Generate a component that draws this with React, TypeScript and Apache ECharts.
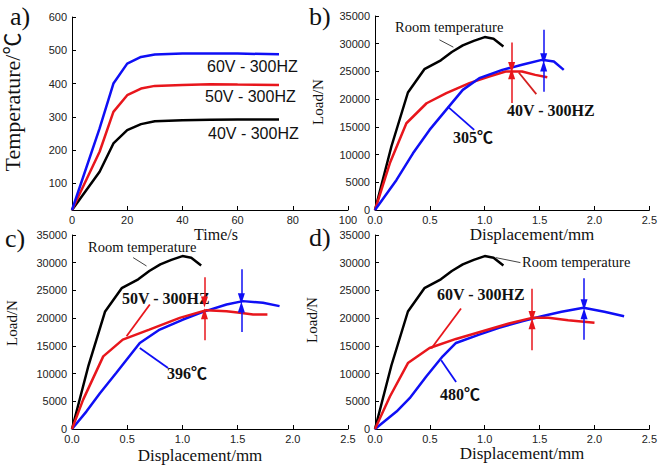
import React, { useEffect, useRef } from "react";
import * as echarts from "echarts";

// ---- Panel a: temperature vs time ----
const timeS = [0, 10, 15, 20, 25, 30, 40, 50, 60, 75];
const temp60V = [20, 265, 400, 460, 480, 487, 490, 490, 490, 488];
const temp50V = [20, 195, 315, 365, 385, 393, 396, 398, 397, 396];
const temp40V = [20, 135, 220, 260, 278, 287, 290, 291, 292, 292];
const timeTicks = [0, 20, 40, 60, 80, 100];
const tempTicks = [100, 200, 300, 400, 500, 600];

// ---- Room temperature curve (same in b, c, d) ----
const roomX = [0, 0.15, 0.3, 0.45, 0.6, 0.7, 0.8, 0.9, 1.0, 1.08, 1.17];
const roomY = [0, 11500, 21200, 25400, 27000, 28500, 29700, 30500, 31200, 30900, 29500];

// ---- Panel b: 40V - 300HZ (red) and 305℃ (blue) ----
const b40X = [0, 0.135, 0.286, 0.47, 0.65, 0.86, 1.04, 1.19, 1.34, 1.46, 1.57];
const b40Y = [0, 8430, 15650, 19260, 21070, 22900, 24080, 24980, 24980, 24380, 23960];
const b305X = [0, 0.196, 0.346, 0.497, 0.648, 0.8, 0.95, 1.16, 1.34, 1.52, 1.63, 1.72];
const b305Y = [0, 5420, 10230, 14450, 18060, 21670, 23780, 25280, 26190, 27090, 26790, 25280];

// ---- Panel c: 50V - 300HZ (red) and 396℃ (blue) ----
const c50X = [0, 0.1, 0.283, 0.46, 0.7, 0.976, 1.217, 1.4, 1.52, 1.64, 1.77];
const c50Y = [0, 5250, 13100, 16130, 17940, 20050, 21440, 21260, 20960, 20660, 20660];
const c396X = [0, 0.13, 0.253, 0.4, 0.614, 0.795, 1.006, 1.187, 1.4, 1.548, 1.73, 1.88];
const c396Y = [0, 3140, 6460, 10090, 15520, 17940, 19750, 21140, 22470, 23070, 22770, 22170];

// ---- Panel d: 60V - 300HZ (red) and 480℃ (blue) ----
const d60X = [0, 0.136, 0.3, 0.497, 0.738, 0.979, 1.22, 1.43, 1.58, 1.76, 2.0];
const d60Y = [0, 5860, 11900, 14620, 16250, 17640, 19030, 20050, 20050, 19630, 19150];
const d480X = [0, 0.196, 0.316, 0.467, 0.617, 0.738, 0.949, 1.13, 1.34, 1.52, 1.7, 1.9, 2.09, 2.27];
const d480Y = [0, 3140, 5560, 9480, 13110, 15520, 17030, 18240, 19450, 20350, 21140, 21860, 21140, 20350];

// ---- Annotation anchors (data space) ----
// arrows: [x, fromY, toY]
const bRedArrows = [[1.245, 30200, 25700], [1.245, 19300, 24600]];
const bBlueArrows = [[1.537, 32500, 27300], [1.537, 21350, 26000]];
const cRedArrows = [[1.2, 27400, 22900], [1.2, 16000, 20800]];
const cBlueArrows = [[1.534, 28800, 23500], [1.534, 17500, 22000]];
const dRedArrows = [[1.431, 25300, 20300], [1.431, 14200, 19000]];
const dBlueArrows = [[1.905, 27200, 22400], [1.905, 16100, 20800]];
// leaders: [x1, y1, x2, y2]
const bRedLeader = [1.31, 24800, 1.47, 20900];
const bBlueLeader = [0.663, 18660, 0.904, 14450];
const bRoomLeader = [0.587, 30700, 0.714, 29380];
const cRedLeader = [0.494, 16730, 0.705, 22470];
const cBlueLeader = [0.614, 14620, 0.87, 10990];
const cRoomLeader = [0.554, 30920, 0.675, 29410];
const dRedLeader = [0.513, 14510, 0.784, 21730];
const dBlueLeader = [0.603, 12400, 0.739, 8480];
const dRoomLeader = [1.1, 30920, 1.325, 30020];

const RED = "#e8161c";
const BLUE = "#0f0ff5";
const BLACK = "#000000";
const SERIF = "'Liberation Serif', 'Times New Roman', 'Noto Sans CJK SC', serif";
const SANS = "'Liberation Sans', Arial, sans-serif";

const pairs = (xs: number[], ys: number[]) => xs.map((x, i) => [x, ys[i]]);

const arrowItems = (arr: number[][], color: string) =>
  arr.map(([x, y1, y2]) => [
    { coord: [x, y1], symbol: "none", lineStyle: { color, width: 1.5, type: "solid" } },
    { coord: [x, y2], symbol: "triangle", symbolSize: [7, 11], lineStyle: { color, width: 1.5, type: "solid" } },
  ]);

const leaderItem = (l: number[], color: string, width: number) => [
  { coord: [l[0], l[1]], symbol: "none", lineStyle: { color, width, type: "solid" } },
  { coord: [l[2], l[3]], symbol: "none", lineStyle: { color, width, type: "solid" } },
];

const markLine = (data: any[]) => ({
  silent: true,
  animation: false,
  label: { show: false },
  emphasis: { disabled: true },
  lineStyle: { type: "solid" },
  data,
});

const lineSeries = (name: string, data: number[][], color: string, idx: number, ml?: any) => ({
  name,
  type: "line",
  xAxisIndex: idx,
  yAxisIndex: idx,
  data,
  showSymbol: false,
  symbol: "none",
  smooth: false,
  lineStyle: { color, width: 2.5 },
  itemStyle: { color },
  silent: true,
  z: 2,
  markLine: ml,
});

const axisCommon = {
  axisLine: { show: true, onZero: false, lineStyle: { color: "#000", width: 1 } },
  axisTick: { show: true, inside: true, length: 4, lineStyle: { color: "#000" } },
  splitLine: { show: false },
  axisLabel: { color: "#222", fontSize: 11, fontFamily: SANS, margin: 4 },
};

const dispX = (idx: number) => ({
  type: "value",
  gridIndex: idx,
  min: 0,
  max: 2.5,
  interval: 0.5,
  ...axisCommon,
  axisLabel: { ...axisCommon.axisLabel, formatter: (v: number) => v.toFixed(1), showMaxLabel: true, showMinLabel: true },
});

const loadY = (idx: number) => ({
  type: "value",
  gridIndex: idx,
  min: 0,
  max: 35000,
  interval: 5000,
  ...axisCommon,
  axisLabel: { ...axisCommon.axisLabel, margin: 5, formatter: (v: number) => String(v) },
});

const txt = (text: string, x: number, y: number, font: string, align = "left", rot = 0) => ({
  type: "text",
  x,
  y,
  rotation: rot,
  silent: true,
  style: { text, font, fill: "#111", textAlign: align, textVerticalAlign: "middle" },
});

export default function App() {
  const ref = useRef<HTMLDivElement>(null);
  useEffect(() => {
    if (!ref.current) return;
    const chart = echarts.init(ref.current, null, { renderer: "svg" });
    const option: any = {
      animation: false,
      backgroundColor: "#ffffff",
      grid: [
        { left: 72, top: 17, width: 276, height: 193 },
        { left: 375, top: 16, width: 277, height: 194 },
        { left: 72, top: 235, width: 276, height: 194 },
        { left: 375, top: 235, width: 277, height: 194 },
      ],
      xAxis: [
        {
          type: "value",
          gridIndex: 0,
          min: 0,
          max: 100,
          interval: 20,
          ...axisCommon,
          axisLabel: { ...axisCommon.axisLabel, customValues: timeTicks, showMaxLabel: true },
          axisTick: { ...axisCommon.axisTick, customValues: timeTicks },
        },
        dispX(1),
        dispX(2),
        dispX(3),
      ],
      yAxis: [
        {
          type: "value",
          gridIndex: 0,
          min: 20,
          max: 600,
          ...axisCommon,
          axisLabel: { ...axisCommon.axisLabel, margin: 5, customValues: tempTicks },
          axisTick: { ...axisCommon.axisTick, customValues: tempTicks },
        },
        loadY(1),
        loadY(2),
        loadY(3),
      ],
      series: [
        lineSeries("40V - 300HZ", pairs(timeS, temp40V), BLACK, 0),
        lineSeries("50V - 300HZ", pairs(timeS, temp50V), RED, 0),
        lineSeries("60V - 300HZ", pairs(timeS, temp60V), BLUE, 0),

        lineSeries("Room temperature b", pairs(roomX, roomY), BLACK, 1, markLine([leaderItem(bRoomLeader, "#444", 1)])),
        lineSeries("40V - 300HZ b", pairs(b40X, b40Y), RED, 1, markLine([...arrowItems(bRedArrows, RED), leaderItem(bRedLeader, "#d42020", 1.8)])),
        lineSeries("305℃", pairs(b305X, b305Y), BLUE, 1, markLine([...arrowItems(bBlueArrows, BLUE), leaderItem(bBlueLeader, BLUE, 1.8)])),

        lineSeries("Room temperature c", pairs(roomX, roomY), BLACK, 2, markLine([leaderItem(cRoomLeader, "#444", 1)])),
        lineSeries("396℃", pairs(c396X, c396Y), BLUE, 2, markLine([...arrowItems(cBlueArrows, BLUE), leaderItem(cBlueLeader, BLUE, 1.8)])),
        lineSeries("50V - 300HZ c", pairs(c50X, c50Y), RED, 2, markLine([...arrowItems(cRedArrows, RED), leaderItem(cRedLeader, RED, 1.8)])),

        lineSeries("Room temperature d", pairs(roomX, roomY), BLACK, 3, markLine([leaderItem(dRoomLeader, "#444", 1)])),
        lineSeries("480℃", pairs(d480X, d480Y), BLUE, 3, markLine([...arrowItems(dBlueArrows, BLUE), leaderItem(dBlueLeader, BLUE, 1.8)])),
        lineSeries("60V - 300HZ d", pairs(d60X, d60Y), RED, 3, markLine([...arrowItems(dRedArrows, RED), leaderItem(dRedLeader, RED, 1.8)])),
      ],
      graphic: [
        // panel letters
        txt("a)", 10, 16, `26px ${SERIF}`),
        txt("b)", 309, 16, `26px ${SERIF}`),
        txt("c)", 5, 238, `26px ${SERIF}`),
        txt("d)", 309, 237, `26px ${SERIF}`),
        // axis names
        txt("Temperature/℃", 12, 102, `22px ${SERIF}`, "center", Math.PI / 2),
        txt("Time/s", 216, 234, `16px ${SERIF}`, "center"),
        txt("Load/N", 318, 102, `15px ${SERIF}`, "center", Math.PI / 2),
        txt("Displacement/mm", 532, 234, `17px ${SERIF}`, "center"),
        txt("Load/N", 12, 323, `15px ${SERIF}`, "center", Math.PI / 2),
        txt("Displacement/mm", 200, 455, `17px ${SERIF}`, "center"),
        txt("Load/N", 312, 320, `15px ${SERIF}`, "center", Math.PI / 2),
        txt("Displacement/mm", 522, 453, `17px ${SERIF}`, "center"),
        // panel a labels
        txt("60V - 300HZ", 207, 66, `16px ${SANS}`),
        txt("50V - 300HZ", 205, 96, `16px ${SANS}`),
        txt("40V - 300HZ", 208, 133, `16px ${SANS}`),
        // panel b
        txt("Room temperature", 395, 27, `14.5px ${SERIF}`),
        txt("40V - 300HZ", 507, 110, `bold 16px ${SERIF}`),
        txt("305℃", 453, 137, `bold 16px ${SERIF}`),
        // panel c
        txt("Room temperature", 88, 247, `14.5px ${SERIF}`),
        txt("50V - 300HZ", 122, 298, `bold 16px ${SERIF}`),
        txt("396℃", 167, 373, `bold 16px ${SERIF}`),
        // panel d
        txt("Room temperature", 522, 262, `14.5px ${SERIF}`),
        txt("60V - 300HZ", 437, 294, `bold 16px ${SERIF}`),
        txt("480℃", 440, 394, `bold 16px ${SERIF}`),
      ],
    };
    chart.setOption(option);
    return () => chart.dispose();
  }, []);
  return (
    <div
      ref={ref}
      style={{ position: "absolute", left: 0, top: 0, width: 660, height: 466, background: "#fff" }}
    />
  );
}
